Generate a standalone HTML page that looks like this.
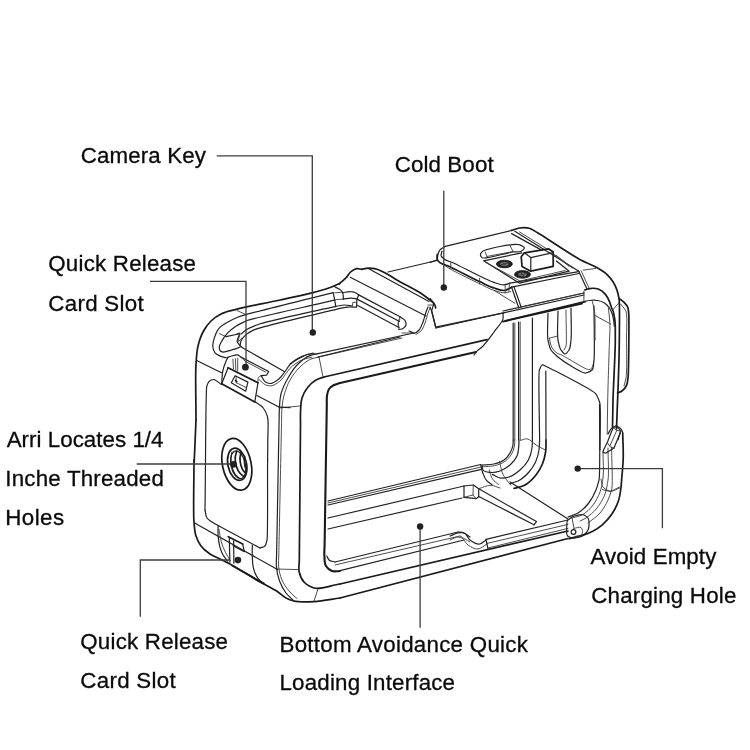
<!DOCTYPE html>
<html><head><meta charset="utf-8">
<style>
html,body{margin:0;padding:0;background:#fff;}
body{width:750px;height:750px;overflow:hidden;}
svg{display:block;will-change:transform}
text{font-family:"Liberation Sans",sans-serif;font-size:22.3px;fill:#0a0a0a;stroke:#0a0a0a;stroke-width:0.3}
.ld{stroke:#3c3c3c;stroke-width:1.3;fill:none}
.dot{fill:#222}
.o{stroke:#1a1a1a;stroke-width:1.7;fill:none;stroke-linecap:round;stroke-linejoin:round}
.oo{stroke:#1a1a1a;stroke-width:2.1;fill:none;stroke-linecap:round;stroke-linejoin:round}
.m{stroke:#222;stroke-width:1.2;fill:none;stroke-linecap:round;stroke-linejoin:round}
.t{stroke:#3a3a3a;stroke-width:0.9;fill:none;stroke-linecap:round;stroke-linejoin:round}
</style></head><body>
<svg width="750" height="750" viewBox="0 0 750 750">
<rect width="750" height="750" fill="#fff"/>
<!-- LABELS -->
<g id="labels">
<text x="80.7" y="163.3" textLength="125.2" lengthAdjust="spacing">Camera Key</text>
<text x="394.7" y="171.8" textLength="98.9" lengthAdjust="spacing">Cold Boot</text>
<text x="48.3" y="271" textLength="147.7" lengthAdjust="spacing">Quick Release</text>
<text x="48.3" y="310.6" textLength="95.4" lengthAdjust="spacing">Card Slot</text>
<text x="6.7" y="446.7" textLength="156.8" lengthAdjust="spacing">Arri Locates 1/4</text>
<text x="5.3" y="485.5" textLength="158.5" lengthAdjust="spacing">Inche Threaded</text>
<text x="5.3" y="524.7" textLength="58.8" lengthAdjust="spacing">Holes</text>
<text x="80.3" y="649" textLength="147.7" lengthAdjust="spacing">Quick Release</text>
<text x="80.3" y="688.3" textLength="95.4" lengthAdjust="spacing">Card Slot</text>
<text x="279.5" y="651.5" textLength="248.4" lengthAdjust="spacing">Bottom Avoidance Quick</text>
<text x="279.5" y="690.3" textLength="175.5" lengthAdjust="spacing">Loading Interface</text>
<text x="590.4" y="564.2" textLength="125.9" lengthAdjust="spacing">Avoid Empty</text>
<text x="591.2" y="603" textLength="145.2" lengthAdjust="spacing">Charging Hole</text>
</g>
<!-- DRAWING -->
<g id="drawing">
<path class="o" d="M196.0 420.0 C196.0 401.3 195.2 373.6 196.0 364.0 C196.5 358.0 196.6 351.8 198.0 346.0 C199.2 341.2 200.7 336.3 203.0 332.0 C205.1 328.0 207.8 324.1 211.0 321.0 C214.1 318.0 218.1 315.5 222.0 313.6 C226.3 311.5 231.3 310.7 236.0 309.4 C243.5 307.3 265.4 303.2 280.0 300.0 C291.3 297.5 307.6 294.1 314.0 292.4 C318.0 291.3 322.1 290.3 326.0 289.0 C328.7 288.1 331.4 287.1 334.0 286.0 C335.8 285.2 337.6 284.4 339.4 283.6"/>
<path class="o" d="M339.5 283.7 C341.6 281.7 343.9 279.9 345.9 277.8 C347.8 275.8 349.1 273.0 351.3 271.4 C352.9 270.2 354.7 269.0 356.6 268.7 C358.3 268.4 360.1 269.1 361.9 269.3"/>
<path class="o" d="M361.9 269.3 C364.0 268.9 366.2 268.3 368.3 268.2 C370.4 268.1 372.6 268.3 374.7 268.7 C377.7 269.3 380.5 270.6 383.3 271.9 C387.7 273.9 391.7 277.0 396.0 279.5 C402.8 283.5 417.6 291.0 422.0 294.0 C424.7 295.9 427.5 297.8 430.0 300.0 C431.8 301.6 434.4 303.5 435.0 305.0 C435.4 305.9 435.4 307.0 435.6 308.0"/>
<path class="o" d="M194.0 460.0 C194.0 480.7 193.1 514.5 194.0 522.0 C194.5 526.7 194.5 531.6 196.0 536.0 C197.2 539.5 198.8 543.1 201.0 546.0 C203.4 549.1 206.7 551.8 210.0 554.0 C213.1 556.1 216.7 557.3 220.0 559.0 C223.3 560.7 226.7 562.3 230.0 564.0 C235.3 566.8 250.5 576.5 260.0 582.0 C266.0 585.4 273.6 589.0 278.0 592.0 C280.7 593.9 283.1 596.4 286.0 598.0 C288.5 599.3 291.3 600.3 294.0 601.0 C298.4 602.2 307.4 601.9 314.0 601.6 C322.7 601.2 331.3 599.2 340.0 598.0"/>
<path class="o" d="M340.0 598.0 L568.0 538.5"/>
<path class="o" d="M622.7 433.0 C622.9 441.6 623.5 450.1 623.2 458.7 C623.0 465.8 621.9 476.0 621.6 480.0 C621.4 482.5 621.3 485.0 621.0 487.5 C620.5 491.5 619.8 496.9 618.3 501.3 C616.8 505.7 614.5 510.1 611.9 514.0 C609.2 518.0 605.9 521.7 602.3 524.8 C599.4 527.3 596.1 529.4 592.7 531.2 C590.3 532.4 587.7 533.5 585.2 534.4 C581.1 535.9 574.5 537.3 569.2 538.7"/>
<path class="o" d="M196.0 420.0 L194.2 462.0"/>
<path class="m" d="M205.0 510.0 C205.6 468.9 205.7 389.3 206.7 386.7 C207.3 385.1 207.6 383.0 208.7 381.8 C209.8 380.6 211.8 379.7 213.3 379.5 C215.7 379.2 218.6 382.8 221.3 384.5"/>
<path class="m" d="M205.0 510.0 C205.7 512.7 205.5 515.9 207.0 518.0 C208.2 519.7 210.3 520.8 212.0 522.0 C214.2 523.5 216.7 524.7 219.0 526.0"/>
<path class="m" d="M219.0 526.0 L260.0 548.0"/>
<path class="m" d="M260.0 548.0 C261.7 547.3 263.8 547.1 265.0 546.0 C266.4 544.7 266.4 542.0 267.0 540.0 C268.0 536.8 267.4 486.7 267.6 460.0"/>
<path class="m" d="M255.3 402.0 C258.0 404.0 261.3 405.5 263.3 408.0 C265.1 410.3 266.3 413.2 267.3 416.0 C268.9 420.4 267.8 432.0 267.8 440.0 C267.8 447.0 267.7 454.0 267.6 461.0"/>
<path class="m" d="M294.0 601.0 C291.3 598.3 288.3 596.0 286.0 593.0 C283.3 589.4 281.1 585.2 279.5 581.0 C277.7 576.3 276.8 571.1 276.4 566.0 C276.1 562.4 276.5 558.7 276.6 555.0 C276.7 549.1 279.0 425.3 279.1 420.0 C279.2 416.7 279.1 413.3 279.3 410.0 C279.6 404.7 279.7 399.1 281.0 394.0 C282.4 388.4 285.1 383.0 288.0 378.0 C290.8 373.0 293.9 367.9 298.0 364.0 C301.5 360.7 306.0 357.2 310.0 355.6 C312.5 354.6 315.3 354.3 318.0 353.6"/>
<path class="m" d="M318.0 353.6 L414.0 333.0"/>
<path class="t" d="M297.0 598.5 C294.3 596.0 291.3 593.8 289.0 591.0 C286.2 587.7 283.7 583.9 282.0 580.0 C280.1 575.7 279.0 570.7 278.6 566.0 C278.3 562.4 278.7 558.7 278.8 555.0 C278.9 549.1 281.5 425.3 281.6 420.0 C281.7 416.7 281.6 413.3 281.8 410.0 C282.2 404.7 282.9 399.2 284.4 394.0 C285.8 389.2 287.6 384.3 290.0 380.0 C292.7 375.3 296.1 370.7 300.0 367.0 C303.3 363.9 307.0 360.6 311.0 359.0 C313.5 358.0 316.3 357.7 319.0 357.0"/>
<path class="t" d="M319.0 357.0 L402.0 338.0"/>
<path class="t" d="M319.0 357.0 L323.0 377.0"/>
<path class="t" d="M279.3 408.0 L300.0 406.0"/>
<path class="o" d="M340.0 584.0 C331.3 585.3 319.6 589.9 314.0 588.0 C310.5 586.8 306.5 584.8 304.0 582.0 C301.6 579.4 300.0 575.5 299.2 572.0 C298.3 568.2 299.3 564.0 299.3 560.0 C299.4 553.6 300.4 433.0 300.5 425.0 C300.5 420.0 300.3 415.0 300.6 410.0 C300.9 406.0 300.8 401.8 302.0 398.0 C303.2 394.1 305.4 390.2 308.0 387.0 C310.2 384.3 313.0 381.7 316.0 380.0 C318.4 378.6 321.3 378.0 324.0 377.0"/>
<path class="o" d="M324.0 377.0 L487.0 339.6"/>
<path class="oo" d="M340.0 571.0 C337.3 571.0 334.4 571.9 332.0 571.0 C329.7 570.2 327.3 568.1 326.0 566.0 C324.3 563.3 324.6 559.4 324.4 556.0 C324.1 552.4 324.5 548.7 324.6 545.0 C324.7 539.1 326.7 409.8 326.8 405.0 C326.9 402.0 326.5 398.9 327.0 396.0 C327.4 393.6 327.7 390.9 329.0 389.0 C330.2 387.3 332.2 386.0 334.0 385.0 C335.8 384.0 338.0 383.7 340.0 383.0"/>
<path class="oo" d="M340.0 383.0 L476.0 352.0"/>
<path class="m" d="M503.0 313.0 C503.0 315.0 503.3 317.1 503.0 319.0 C502.5 322.0 497.1 327.8 494.0 332.0 C490.2 337.1 485.0 344.2 482.0 347.0 C480.1 348.8 477.2 350.5 476.0 352.0 C475.3 352.9 474.7 354.0 474.0 355.0"/>
<path class="m" d="M436.0 328.0 L503.0 313.0"/>
<path class="m" d="M430.0 307.0 L432.0 312.0 L436.0 328.0"/>
<path class="o" d="M340.0 584.0 L568.0 531.0"/>
<path class="t" d="M276.0 569.0 L298.0 569.6"/>
<path class="t" d="M318.0 589.0 L314.0 601.0"/>
<path class="m" d="M326.8 556.0 C327.5 557.3 328.0 559.0 329.0 560.0 C330.4 561.4 333.0 561.3 335.0 562.0"/>
<path class="m" d="M328.0 501.0 L480.7 464.5"/>
<path class="t" d="M328.0 503.0 L481.0 467.0"/>
<path class="m" d="M328.0 505.0 L481.3 469.3"/>
<path class="m" d="M328.0 518.0 L464.0 486.0"/>
<path class="m" d="M328.0 529.0 L462.0 498.0"/>
<path class="m" d="M335.0 562.0 L458.0 532.0"/>
<path class="t" d="M335.0 565.0 L460.0 536.0"/>
<path class="m" d="M340.0 570.6 L464.0 540.0"/>
<path class="m" d="M458.0 532.0 C460.0 532.3 462.1 532.3 464.0 533.0 C466.2 533.8 468.0 535.7 470.0 537.0"/>
<path class="t" d="M460.0 536.0 C461.7 537.0 463.3 538.0 465.0 539.0 C466.7 540.0 468.3 541.0 470.0 542.0"/>
<path class="m" d="M450.0 536.0 C452.7 535.0 455.2 533.4 458.0 533.0 C459.9 532.7 462.3 532.4 464.0 533.0 C466.7 533.9 467.6 538.2 470.0 540.0 C472.8 542.1 476.9 544.7 480.0 544.0 C482.1 543.6 484.0 541.3 486.0 540.0"/>
<path class="t" d="M450.0 540.0 C452.7 539.0 455.9 536.9 458.0 537.0 C459.3 537.1 460.8 537.4 462.0 538.0 C463.9 538.9 465.6 543.2 468.0 545.0 C470.8 547.1 474.8 549.2 478.0 549.0 C481.1 548.8 484.0 545.7 487.0 544.0"/>
<path class="m" d="M486.0 539.4 L568.0 520.0"/>
<path class="t" d="M487.0 543.4 L568.0 524.4"/>
<path class="t" d="M488.0 548.0 L568.0 528.4"/>
<path class="m" d="M486.0 539.4 L488.0 549.0"/>
<path class="m" d="M568.0 520.0 C568.3 520.0 570.6 517.8 572.0 517.0 C574.3 515.7 581.7 514.0 584.0 515.0 C585.4 515.6 587.1 516.8 588.0 518.0 C589.5 519.9 589.4 527.1 588.0 530.0 C587.1 531.8 585.6 533.7 584.0 535.0 C581.5 537.0 574.4 538.6 572.0 538.0 C570.5 537.6 568.7 536.9 567.6 536.0 C565.8 534.6 567.1 520.0 567.4 520.0 C567.6 520.0 567.8 520.0 568.0 520.0Z"/>
<path class="t" d="M572.0 518.0 L574.0 528.0"/>
<path class="m" d="M478.8 488.8 L536.4 521.6"/>
<path class="m" d="M478.8 496.5 L534.0 524.8"/>
<path class="m" d="M510.0 482.0 L568.0 519.0"/>
<path class="m" d="M534.0 524.8 L536.4 521.6"/>
<path class="m" d="M464.0 486.0 L473.3 485.0 L478.7 488.7 L478.7 496.7 L476.0 498.7 L464.0 497.3"/>
<path class="t" d="M473.3 485.0 L473.0 495.0 L476.0 498.7"/>
<path class="t" d="M464.0 497.3 L473.0 495.0"/>
<path class="m" d="M464.0 486.0 L464.0 497.3"/>
<path class="m" d="M513.2 440.0 C513.1 442.0 513.2 444.1 512.8 446.0 C512.3 448.4 511.2 450.9 510.0 453.0 C508.5 455.6 506.4 458.2 504.0 460.0 C501.2 462.1 497.4 463.2 494.0 464.0 C490.1 464.9 486.0 464.7 482.0 465.0"/>
<path class="t" d="M514.8 440.0 C514.7 442.0 514.8 444.0 514.4 446.0 C513.9 448.8 513.0 451.6 511.6 454.0 C510.0 456.7 507.7 459.3 505.2 461.2 C502.3 463.4 498.4 464.7 494.8 465.6 C490.8 466.6 486.5 466.4 482.4 466.8"/>
<path class="m" d="M519.0 440.0 C518.9 442.0 519.0 444.0 518.8 446.0 C518.5 449.2 518.3 453.0 517.0 456.0 C515.5 459.4 512.8 462.5 510.0 465.0 C507.1 467.5 503.6 469.8 500.0 471.0 C496.9 472.1 493.2 472.8 490.0 472.4 C487.6 472.1 484.2 471.8 483.0 470.0 C482.1 468.8 482.3 466.7 482.0 465.0"/>
<path class="m" d="M532.4 440.0 C532.3 442.7 532.4 445.4 532.0 448.0 C531.4 452.1 530.3 456.4 528.4 460.0 C526.4 463.8 523.2 467.2 520.0 470.0 C516.8 472.8 513.1 475.8 509.0 477.0 C506.2 477.9 502.9 478.5 500.0 478.0 C497.3 477.5 494.9 475.6 492.4 474.4"/>
<path class="m" d="M539.6 440.0 C539.4 443.3 539.5 446.7 539.0 450.0 C538.4 454.1 537.3 458.3 535.6 462.0 C533.9 465.6 531.6 469.0 529.0 472.0 C525.9 475.5 522.0 479.1 518.0 481.0 C515.5 482.2 512.7 482.7 510.0 483.6"/>
<path class="o" d="M546.0 440.0 C545.9 444.0 546.2 448.1 545.6 452.0 C545.0 456.1 544.0 460.2 542.4 464.0 C540.8 467.9 538.6 471.7 536.0 475.0 C532.7 479.1 528.7 483.3 524.0 485.6 C521.0 487.1 517.3 487.5 514.0 488.4"/>
<path class="m" d="M599.6 404.0 C599.4 429.3 600.4 474.6 599.0 480.0 C598.1 483.4 597.3 486.8 596.0 490.0 C594.0 495.0 591.4 499.9 588.0 504.0 C585.2 507.4 581.8 510.7 578.0 513.0 C575.0 514.8 571.3 515.7 568.0 517.0"/>
<path class="t" d="M603.0 452.0 C603.0 460.7 604.0 470.5 603.0 478.0 C602.4 482.7 601.6 487.6 600.0 492.0 C598.3 496.6 596.0 501.2 593.0 505.0 C590.0 508.8 586.3 512.8 582.0 515.0 C579.0 516.6 575.3 517.0 572.0 518.0"/>
<path class="t" d="M608.0 448.0 C608.0 458.7 609.1 472.5 608.0 480.0 C607.3 484.7 606.6 489.6 605.0 494.0 C603.1 499.0 600.3 503.9 597.0 508.0 C593.9 511.8 589.0 516.1 586.0 518.0 C584.1 519.2 582.0 520.0 580.0 521.0"/>
<path class="t" d="M611.6 447.0 C611.6 461.3 613.1 484.6 611.6 490.0 C610.6 493.4 609.5 496.8 608.0 500.0 C605.9 504.6 603.3 509.2 600.0 513.0 C596.6 516.9 592.0 519.7 588.0 523.0"/>
<path class="t" d="M601.0 479.0 C601.7 481.7 601.5 485.0 603.0 487.0 C604.5 489.0 607.6 490.7 610.0 491.0 C613.0 491.4 616.3 488.3 619.4 487.0"/>
<path class="m" d="M503.0 311.0 L584.0 293.0"/>
<path class="o" d="M503.0 321.6 L582.0 303.6"/>
<path class="m" d="M513.2 323.0 L513.2 440.0"/>
<path class="t" d="M514.8 323.0 L514.8 440.0"/>
<path class="m" d="M518.6 322.0 L518.6 440.0"/>
<path class="t" d="M520.2 322.0 L520.2 440.0"/>
<path class="m" d="M532.4 318.0 L532.4 440.0"/>
<path class="m" d="M548.0 313.0 C548.0 322.0 546.8 334.6 548.0 340.0 C548.7 343.4 549.3 347.1 551.0 350.0 C552.7 352.7 555.5 354.8 558.0 357.0 C561.9 360.5 582.8 374.0 586.0 373.0 C588.0 372.4 590.6 371.5 592.0 370.0 C594.1 367.8 593.4 363.3 594.0 360.0 C594.9 354.6 594.0 324.0 594.0 306.0"/>
<path class="m" d="M558.0 311.0 C558.0 320.7 556.8 334.6 558.0 340.0 C558.7 343.4 559.3 347.6 561.0 350.0 C562.1 351.5 563.7 354.0 565.0 354.0 C566.3 354.0 568.0 351.5 569.0 350.0 C570.6 347.6 570.5 343.3 571.0 340.0 C571.8 334.6 571.0 318.7 571.0 308.0"/>
<path class="t" d="M566.0 310.0 C566.0 322.0 566.9 343.8 566.0 346.0 C565.4 347.4 564.7 348.7 564.0 350.0"/>
<path class="t" d="M550.0 338.0 L558.0 336.0"/>
<path class="m" d="M539.6 440.0 C539.5 416.7 538.1 372.7 539.4 370.0 C540.2 368.3 540.7 365.5 542.0 365.0 C543.3 364.6 545.3 366.3 547.0 367.0 C549.7 368.1 593.8 390.0 596.0 394.0 C597.4 396.5 598.6 399.3 599.6 402.0 C601.2 406.3 599.9 434.0 600.0 450.0"/>
<path class="m" d="M545.8 371.0 L546.0 440.0"/>
<path class="m" d="M608.0 434.0 C609.3 432.0 610.2 429.0 612.0 428.0 C613.1 427.4 614.8 426.8 616.0 427.0 C617.5 427.2 619.2 428.8 620.0 430.0 C621.3 431.9 618.7 436.7 618.0 440.0"/>
<path class="m" d="M388.0 272.0 L437.0 260.5"/>
<path class="m" d="M428.0 307.0 C427.3 308.7 426.6 310.3 426.0 312.0 C425.0 314.7 424.3 318.8 423.0 322.0 C421.9 324.8 420.8 328.1 419.0 330.0 C417.9 331.2 416.4 332.7 415.0 333.0 C413.2 333.4 411.0 331.7 409.0 331.0"/>
<path class="t" d="M430.0 308.0 C429.3 309.7 428.6 311.3 428.0 313.0 C427.0 315.7 426.3 319.8 425.0 323.0 C423.9 325.8 423.0 328.9 421.0 331.0 C419.6 332.4 417.7 333.3 416.0 334.4"/>
<path class="t" d="M428.0 305.0 L435.0 305.0"/>
<path class="t" d="M400.0 319.0 C399.3 320.7 398.1 322.3 398.0 324.0 C397.9 325.6 398.7 327.3 399.0 329.0"/>
<path class="m" d="M290.0 364.0 C293.3 362.0 296.5 359.7 300.0 358.0 C303.2 356.4 306.9 354.4 310.0 354.0 C311.9 353.7 314.0 354.0 316.0 354.0"/>
<path class="m" d="M318.0 357.0 L400.0 337.0"/>
<path class="t" d="M402.0 333.0 L414.0 333.0"/>
<path class="m" d="M437.2 259.2 C437.5 257.6 437.6 256.0 438.0 254.4 C438.4 253.0 438.8 251.5 439.6 250.4 C440.8 248.6 443.3 247.7 445.2 246.4"/>
<path class="m" d="M445.2 246.4 L511.6 230.4"/>
<path class="o" d="M511.6 230.4 C514.3 229.6 516.9 228.4 519.6 228.0 C522.7 227.6 526.2 227.5 529.2 228.3 C532.2 229.1 534.8 231.3 537.6 232.8 C542.1 235.2 572.3 255.7 580.7 260.0 C585.9 262.7 591.6 264.5 596.7 267.5 C600.0 269.4 603.5 271.3 606.3 273.9 C608.7 276.1 610.9 278.6 612.7 281.3 C614.4 283.9 615.8 286.9 616.9 289.9 C617.9 292.6 618.4 295.6 619.0 298.4 C619.9 303.0 619.4 326.1 619.3 340.0 C619.2 362.2 617.6 399.9 617.2 410.0 C617.0 416.3 616.7 422.7 616.5 429.0"/>
<path class="o" d="M437.2 254.4 C437.2 256.0 436.7 257.8 437.2 259.2 C437.6 260.4 438.7 261.5 439.6 262.4 C441.0 263.9 447.1 265.5 450.8 267.2 C456.7 269.9 472.0 278.1 479.6 281.6 C484.4 283.8 489.0 286.5 494.0 288.0 C497.6 289.1 501.7 291.1 505.2 290.4 C507.4 289.9 509.5 288.3 511.6 287.2"/>
<path class="m" d="M442.0 251.2 C441.7 252.8 440.7 254.6 441.2 256.0 C441.6 257.3 443.2 258.3 444.4 259.2 C446.3 260.7 450.8 261.8 454.0 263.2 C459.1 265.4 474.4 273.7 481.2 276.8 C485.4 278.7 489.6 281.0 494.0 282.4 C497.4 283.5 501.4 285.1 504.4 284.8 C506.3 284.6 508.1 283.7 510.0 283.2"/>
<path class="m" d="M510.0 283.2 L578.8 271.6"/>
<path class="t" d="M437.2 260.8 C441.7 263.6 446.2 266.6 450.8 269.3 C458.2 273.6 472.0 280.0 479.6 283.7 C484.4 286.0 489.0 288.8 494.0 290.4 C497.6 291.5 502.2 293.0 505.2 292.8 C507.1 292.6 508.9 291.9 510.8 291.5"/>
<path class="t" d="M450.8 262.4 L450.8 268.0"/>
<path class="t" d="M479.6 278.4 L479.6 284.0"/>
<path class="t" d="M505.2 285.6 L505.2 292.8"/>
<path class="t" d="M509.5 284.0 L508.7 291.2"/>
<path class="m" d="M511.6 287.2 L518.8 308.0"/>
<path class="m" d="M514.0 286.9 L521.2 307.2"/>
<path class="t" d="M494.0 290.4 L514.8 303.2"/>
<path class="m" d="M514.8 231.2 L578.8 271.2"/>
<path class="m" d="M578.8 271.2 L586.8 288.8"/>
<path class="t" d="M581.2 270.9 L589.2 288.5"/>
<path class="m" d="M511.6 287.2 L579.0 273.5"/>
<path class="m" d="M480.4 254.4 C480.5 253.3 481.9 252.2 482.8 251.2 C484.2 249.6 504.9 245.1 510.0 244.8 C513.2 244.6 516.8 243.7 519.6 244.8 C521.3 245.5 524.5 246.8 524.4 248.0 C524.4 249.0 522.4 250.5 521.2 251.2 C519.2 252.4 515.9 251.7 513.2 252.0 C509.0 252.5 490.6 257.5 487.6 257.6 C485.7 257.7 483.2 258.6 482.0 257.6 C481.2 256.9 480.3 255.4 480.4 254.4Z"/>
<path class="t" d="M485.2 252.0 L486.8 256.5"/>
<path class="t" d="M510.0 245.6 L513.2 251.5"/>
<path class="t" d="M486.8 256.5 L513.2 251.5"/>
<path class="m" d="M522.0 252.8 L483.6 260.8 L519.6 283.2 L569.2 271.2 L556.4 261.0"/>
<path class="t" d="M486.0 262.5 L520.0 281.0 L565.0 270.5"/>
<path class="o" d="M521.2 256.8 L524.4 252.8 L548.4 248.8 L553.2 252.0 L553.2 266.4 L530.8 271.2 L522.0 266.4Z"/>
<path class="m" d="M524.4 252.8 L530.8 257.6 L553.2 252.6"/>
<path class="m" d="M530.8 257.6 L530.8 271.2"/>
<path class="m" d="M511.6 233.6 L542.0 250.4"/>
<path class="t" d="M519.6 232.0 L546.8 248.8"/>
<path class="t" d="M553.2 253.6 L569.2 266.4"/>
<path class="t" d="M556.4 255.5 L572.4 268.0"/>
<path class="m" d="M430.0 262.4 L437.0 260.0"/>
<path class="m" d="M430.0 298.4 L434.0 303.2 L431.6 311.2 L435.6 327.2 L503.6 312.8"/>
<path class="m" d="M503.6 312.8 L584.0 295.0"/>
<path class="o" d="M505.2 320.8 L585.2 301.6"/>
<path class="t" d="M519.0 307.5 L584.0 293.0"/>
<path class="o" d="M236.8 450.9 C236.3 453.1 235.4 455.2 235.2 457.3 C235.0 460.1 235.4 463.2 236.3 465.9 C237.1 468.5 238.3 471.4 240.0 473.3 C241.1 474.5 242.5 475.5 243.7 476.5"/>
<path class="o" d="M241.1 452.0 C240.7 454.1 240.0 456.3 240.0 458.4 C239.9 460.9 240.3 463.5 241.1 465.9 C241.7 467.7 242.7 469.9 243.7 471.2 C244.4 472.0 245.3 472.6 246.1 473.3"/>
<path class="m" d="M244.8 456.3 C244.6 458.4 244.1 460.6 244.3 462.7 C244.4 464.5 244.7 466.8 245.3 468.0 C245.7 468.7 246.3 469.4 246.7 470.1"/>
<path class="m" d="M232.0 452.0 C231.6 454.1 231.0 456.3 230.9 458.4 C230.8 461.2 231.2 464.2 232.0 466.9 C232.7 469.5 233.6 472.2 235.2 474.4 C236.4 476.0 238.0 477.2 239.5 478.7"/>
<path class="m" d="M194.6 523.0 L277.5 569.5"/>
<path class="m" d="M218.1 525.5 C218.1 528.8 217.9 532.2 218.1 535.6 C218.4 539.2 218.8 542.8 219.7 546.3 C220.5 549.2 221.5 552.2 222.9 554.8 C224.2 557.1 226.1 559.1 227.7 561.2"/>
<path class="t" d="M219.0 529.2 C219.8 533.5 220.1 537.9 221.3 542.0 C222.4 545.7 223.9 549.3 225.6 552.7 C227.0 555.4 228.8 558.0 230.4 560.7"/>
<path class="m" d="M252.3 545.2 C252.3 549.1 252.1 553.0 252.3 556.9 C252.5 560.5 252.5 564.2 253.3 567.6 C254.0 570.5 255.0 573.6 256.5 576.1 C257.9 578.5 260.1 580.4 261.9 582.5"/>
<path class="o" d="M228.3 536.7 L242.7 544.1"/>
<path class="m" d="M242.7 544.1 L244.3 551.6 L233.1 545.7"/>
<path class="m" d="M229.3 537.9 L229.9 562.3"/>
<path class="m" d="M233.6 540.9 L233.9 563.3"/>
<path class="o" d="M232.0 565.5 L264.0 583.6"/>
<path class="o" d="M228.1 367.7 L258.0 382.7"/>
<path class="o" d="M221.7 383.7 L254.8 401.9"/>
<path class="m" d="M221.7 383.7 C222.1 379.5 221.9 375.1 222.8 370.9 C223.5 367.7 225.0 363.7 226.0 361.3 C226.6 359.9 227.4 358.5 228.1 357.1"/>
<path class="m" d="M228.1 367.7 L221.7 383.7"/>
<path class="m" d="M258.0 382.7 L254.8 401.9"/>
<path class="t" d="M258.0 382.7 C258.2 380.9 257.6 378.5 258.5 377.3 C259.1 376.6 260.3 376.3 261.2 375.7"/>
<path class="m" d="M231.3 382.7 L235.1 375.7 L247.9 382.1 L245.7 391.2Z"/>
<path class="t" d="M236.1 376.8 L236.1 382.7 L246.3 387.5"/>
<path class="o" d="M235.6 380.5 L236.7 381.6"/>
<path class="m" d="M196.7 360.5 L221.5 372.7"/>
<path class="m" d="M256.9 395.5 L279.3 407.2 L290.0 407.7"/>
<path class="m" d="M228.1 357.1 C231.3 356.4 235.9 354.2 237.7 354.9 C238.9 355.4 239.9 356.4 240.9 357.1"/>
<path class="m" d="M240.9 357.1 L268.7 371.5 L266.5 375.2 L261.2 375.7"/>
<path class="t" d="M237.7 358.1 L237.7 370.9"/>
<path class="t" d="M232.9 359.2 L233.5 368.8"/>
<path class="t" d="M235.4 358.7 L235.8 370.1"/>
<path class="t" d="M240.9 357.1 L245.2 361.3 L265.5 372.0"/>
<path class="t" d="M259.0 379.5 C261.2 381.3 263.0 383.8 265.5 384.8 C267.1 385.5 269.1 386.0 270.8 385.9 C273.5 385.8 276.8 383.5 279.3 381.6 C281.8 379.6 283.7 376.7 285.7 374.1 C287.2 372.2 288.4 370.0 290.0 368.3 C291.5 366.7 293.2 365.3 295.0 364.0 C297.5 362.2 300.2 360.6 303.0 359.5 C305.8 358.4 309.0 358.0 312.0 357.3"/>
<path class="t" d="M237.2 310.6 L246.0 314.6"/>
<path class="m" d="M333.1 292.7 C304.1 300.0 250.8 313.1 246.0 314.6 C243.0 315.5 239.9 316.3 237.0 317.5 C233.9 318.8 230.9 320.3 228.0 322.0 C224.9 323.8 221.5 325.5 219.2 328.1 C216.9 330.7 215.5 334.3 214.4 337.7 C213.5 340.5 212.5 343.5 212.8 346.3 C213.0 348.5 213.6 351.0 214.9 352.7 C216.0 354.1 218.0 355.1 219.7 355.9 C221.9 357.0 224.4 357.3 226.7 358.0"/>
<path class="m" d="M334.7 300.2 C305.1 307.1 251.2 318.5 246.0 321.0 C242.7 322.6 239.3 324.0 236.3 326.0 C233.2 328.0 230.2 330.2 227.7 332.9 C225.5 335.3 223.4 338.0 221.9 340.9 C220.8 342.9 219.1 345.4 219.2 347.3 C219.3 348.5 219.5 350.2 220.3 351.0 C220.9 351.6 222.0 351.8 222.9 352.1 C224.3 352.5 232.6 349.7 235.2 348.9 C236.8 348.4 238.4 347.8 240.0 347.3"/>
<path class="m" d="M352.3 306.0 C349.8 305.7 347.4 305.0 344.9 305.0 C341.7 305.0 338.5 306.0 335.3 306.6 C330.2 307.5 264.8 321.8 258.8 324.2 C255.0 325.7 251.0 326.9 247.6 329.0 C245.3 330.4 243.2 332.3 241.0 334.0"/>
<path class="m" d="M356.6 307.1 C353.4 307.1 350.2 306.8 347.0 307.1 C343.4 307.4 339.9 308.6 336.3 309.3 C330.6 310.5 267.1 325.7 262.0 327.4 C258.8 328.4 255.4 329.1 252.4 330.6 C249.8 331.9 247.2 333.4 245.2 335.4 C243.6 337.0 241.9 338.9 241.0 341.0 C240.4 342.5 240.3 344.3 240.0 346.0"/>
<path class="t" d="M219.2 333.5 L226.1 336.7"/>
<path class="m" d="M226.1 336.7 L238.4 334.0"/>
<path class="m" d="M237.2 333.8 C238.0 333.5 239.0 333.0 239.6 333.0 C240.5 332.9 236.5 340.0 237.2 341.8 C237.6 342.9 238.7 344.0 239.6 345.0 C240.3 345.8 241.2 346.6 242.0 347.4"/>
<path class="t" d="M239.9 334.6 C239.4 336.9 237.6 341.5 238.3 341.5 C238.9 341.5 240.8 339.0 242.0 337.8"/>
<path class="m" d="M242.0 347.4 L284.7 371.8"/>
<path class="m" d="M261.2 375.7 C262.6 377.8 263.6 380.9 265.5 382.1 C266.7 382.8 268.3 383.4 269.7 383.5 C271.9 383.7 275.8 381.4 278.3 379.5 C280.9 377.6 282.7 374.6 284.7 372.0 C286.6 369.6 288.0 366.5 290.0 364.5 C291.2 363.2 292.6 362.1 294.0 361.0 C296.2 359.3 299.2 357.5 302.0 356.2 C305.5 354.6 309.5 354.1 313.2 353.0"/>
<path class="t" d="M520.4 440.4 C522.5 439.9 524.8 438.7 526.8 438.8 C530.0 439.0 533.1 443.2 536.4 445.2 C539.3 446.9 542.3 448.4 545.2 450.0"/>
<path class="t" d="M499.6 461.2 C500.7 465.5 501.0 470.1 502.8 474.0 C504.7 478.1 508.1 481.5 510.8 485.2"/>
<path class="t" d="M583.3 270.1 L595.6 268.5"/>
<path class="o" d="M584.9 289.9 C587.0 289.4 589.1 288.4 591.3 288.3 C593.8 288.1 596.5 288.4 598.8 289.3 C601.2 290.3 603.5 292.2 605.2 294.1 C607.1 296.2 608.4 299.0 609.5 301.6 C610.4 303.7 611.1 306.9 611.6 308.0 C611.9 308.7 612.4 309.3 612.7 310.0 C613.2 311.1 614.3 316.4 614.8 319.7 C615.6 324.9 615.2 333.2 615.3 340.0 C615.4 350.8 613.4 385.6 613.0 400.0 C612.8 409.0 612.7 418.0 612.5 427.0"/>
<path class="t" d="M612.7 310.1 L619.0 302.7"/>
<path class="m" d="M583.9 301.6 C585.7 301.2 587.4 300.7 589.2 300.5 C592.0 300.1 595.0 300.0 597.7 300.5 C599.9 300.9 602.2 301.6 604.1 302.7 C606.2 304.0 608.1 306.0 609.5 308.0 C611.0 310.2 611.9 312.9 612.7 315.5 C613.7 318.9 613.8 322.6 614.3 326.1"/>
<path class="t" d="M608.4 308.0 C608.9 313.3 609.8 318.7 610.0 324.0 C610.2 329.3 609.7 334.7 609.5 340.0 C609.2 348.5 608.1 381.9 607.7 400.0 C607.5 411.3 607.4 422.7 607.2 434.0"/>
<path class="t" d="M592.4 301.6 C593.1 304.8 594.0 308.0 594.5 311.2 C595.4 316.4 594.9 330.4 595.1 340.0"/>
<path class="t" d="M595.1 315.5 L610.5 324.0"/>
<path class="t" d="M583.9 291.0 L583.9 301.6"/>
<path class="o" d="M619.0 298.4 C620.8 299.8 622.8 301.0 624.4 302.7 C625.6 304.0 626.9 305.3 627.6 306.9 C628.5 308.8 628.4 311.2 628.7 313.3 C629.2 316.7 628.7 374.0 628.0 378.0 C627.5 380.5 627.6 383.3 626.5 385.5 C625.5 387.6 623.9 389.7 622.0 391.0 C620.7 391.9 619.0 392.3 617.5 393.0"/>
<path class="t" d="M620.1 303.7 C621.9 305.8 624.1 307.8 625.5 310.1 C627.8 313.7 626.4 330.0 626.5 340.0 C626.7 352.7 626.9 373.7 626.0 378.0 C625.4 380.7 624.7 383.3 624.0 386.0"/>
<path class="m" d="M480.7 464.7 C481.3 467.3 481.7 470.1 482.7 472.7 C483.7 475.5 484.7 478.5 486.7 480.7 C488.1 482.3 490.2 483.3 492.0 484.7"/>
<path class="t" d="M478.7 488.7 C482.7 487.6 486.7 485.2 490.7 485.3 C493.8 485.5 496.9 487.1 500.0 488.0"/>
<path class="t" d="M489.3 470.0 C490.4 473.1 490.8 476.7 492.7 479.3 C494.2 481.4 496.7 482.9 498.7 484.7"/>
<path class="m" d="M333.1 292.7 C333.7 295.2 334.3 297.7 334.7 300.2 C335.1 302.3 335.4 304.5 335.8 306.6"/>
<path class="m" d="M333.7 286.3 C336.0 287.6 339.3 288.8 340.6 290.1 C341.4 290.8 342.2 291.8 342.7 292.7 C343.5 294.3 343.1 297.0 343.3 299.1"/>
<path class="t" d="M334.7 292.9 L341.7 292.2"/>
<path class="t" d="M335.3 299.7 L343.3 299.1"/>
<path class="m" d="M342.7 292.7 C345.2 292.4 347.7 291.5 350.2 291.7 C352.0 291.8 353.9 292.0 355.5 292.7 C356.7 293.3 357.7 294.2 358.7 294.9"/>
<path class="m" d="M343.3 299.1 C345.9 298.8 348.6 297.9 351.3 298.1 C353.2 298.2 355.2 298.8 357.1 299.1"/>
<path class="m" d="M358.7 294.9 C358.2 296.3 357.5 297.7 357.1 299.1 C356.5 301.5 356.8 304.1 356.6 306.6"/>
<path class="t" d="M352.3 306.1 L352.9 302.3 L356.6 302.3"/>
<path class="m" d="M350.2 277.3 L426.0 316.0"/>
<path class="m" d="M368.3 268.5 L429.0 301.5"/>
<path class="m" d="M358.7 294.9 L400.0 316.7"/>
<path class="m" d="M357.1 299.1 L399.5 321.5"/>
<path class="m" d="M357.7 305.5 L399.0 327.5"/>
<path class="m" d="M400.0 316.7 C401.7 318.0 404.0 318.8 405.0 320.5 C405.7 321.8 406.3 323.7 406.0 325.0 C405.7 326.3 404.3 327.8 403.0 328.5 C401.9 329.2 400.3 329.2 399.0 329.5"/>
<path class="t" d="M400.0 316.7 C399.4 318.5 398.5 320.2 398.3 322.0 C398.1 323.8 398.8 325.7 399.0 327.5"/>
<path class="m" d="M613.0 427.7 C613.7 427.1 614.4 426.2 615.2 426.0 C616.5 425.6 618.3 426.8 619.5 427.7 C620.5 428.4 621.5 429.3 622.0 430.4 C622.4 431.2 622.5 432.1 622.7 433.0"/>
<path class="m" d="M613.0 427.7 L607.2 442.7 L603.5 450.0 L603.0 452.3 L605.6 453.3 L614.0 448.0 L621.0 431.0"/>
<path class="t" d="M616.8 430.4 L609.9 445.9"/>
<path class="t" d="M613.0 427.7 L616.8 430.4 L621.0 431.0"/>
<path class="t" d="M607.2 442.7 L610.4 447.0 L614.0 448.0"/>
<path class="t" d="M602.3 489.6 L610.8 491.7 L621.0 487.5"/>
<path class="t" d="M573.6 528.5 C576.1 528.2 579.9 526.5 581.0 527.5 C581.7 528.1 582.3 529.5 582.5 530.5 C582.8 532.1 582.1 534.5 581.0 535.5 C579.8 536.7 577.0 536.0 575.0 536.3"/>
<path class="t" d="M549.5 338.0 C550.0 340.5 550.0 343.2 551.0 345.5 C552.0 347.9 553.6 350.3 555.5 352.0 C557.4 353.7 560.2 354.3 562.5 355.5 C566.2 357.4 584.7 368.7 586.5 369.0 C587.7 369.2 589.0 369.8 590.0 369.5 C591.1 369.1 591.9 367.6 592.5 366.5 C593.4 364.9 593.4 362.8 593.8 361.0"/>
<ellipse cx="504.4" cy="264" rx="8" ry="3.8" fill="#222" stroke="#111" stroke-width="0.8"/>
<ellipse cx="504.4" cy="264" rx="4.2" ry="1.9" fill="#777"/>
<path d="M500.9 264.8L507.9 263.2M502.9 262.8L505.9 265.2" stroke="#222" stroke-width="0.7"/>
<ellipse cx="522.5" cy="274.4" rx="8" ry="3.8" fill="#222" stroke="#111" stroke-width="0.8"/>
<ellipse cx="522.5" cy="274.4" rx="4.2" ry="1.9" fill="#777"/>
<path d="M519.0 275.2L526.0 273.59999999999997M521.0 273.2L524.0 275.59999999999997" stroke="#222" stroke-width="0.7"/>
<ellipse class="o" cx="236.8" cy="464.3" rx="14.3" ry="26.3" transform="rotate(-12 236.8 464.3)" />
<ellipse class="o" cx="237.2" cy="464.3" rx="9.3" ry="16.3" transform="rotate(-12 237.2 464.3)" />
<ellipse class="m" cx="238.2" cy="464.8" rx="7.2" ry="14" transform="rotate(-12 238.2 464.8)" />
<circle cx="573.5" cy="532" r="2.4" class="m"/>
</g>
<!-- LEADERS -->
<g id="leaders">
<path class="ld" d="M216.7 155.8H312.3V332"/>
<circle class="dot" cx="312.8" cy="332.5" r="3.2"/>
<path class="ld" d="M443.8 190.8V287"/>
<circle class="dot" cx="443.8" cy="287.5" r="3.2"/>
<path class="ld" d="M150 281.3H246V366"/>
<circle class="dot" cx="245.4" cy="367.2" r="3.4"/>
<path class="ld" d="M136.7 464H233"/>
<circle class="dot" cx="233.6" cy="464.3" r="3.4"/>
<path class="ld" d="M140.3 616.7V560H229"/>
<circle class="dot" cx="237.9" cy="560.1" r="3.3"/>
<path class="ld" d="M420.1 627.7V527"/>
<circle class="dot" cx="420.1" cy="526.5" r="3.2"/>
<path class="ld" d="M577.7 468.6H662.4V528.2"/>
<circle class="dot" cx="577.7" cy="468.6" r="3.2"/>
</g>
</svg>
</body></html>
